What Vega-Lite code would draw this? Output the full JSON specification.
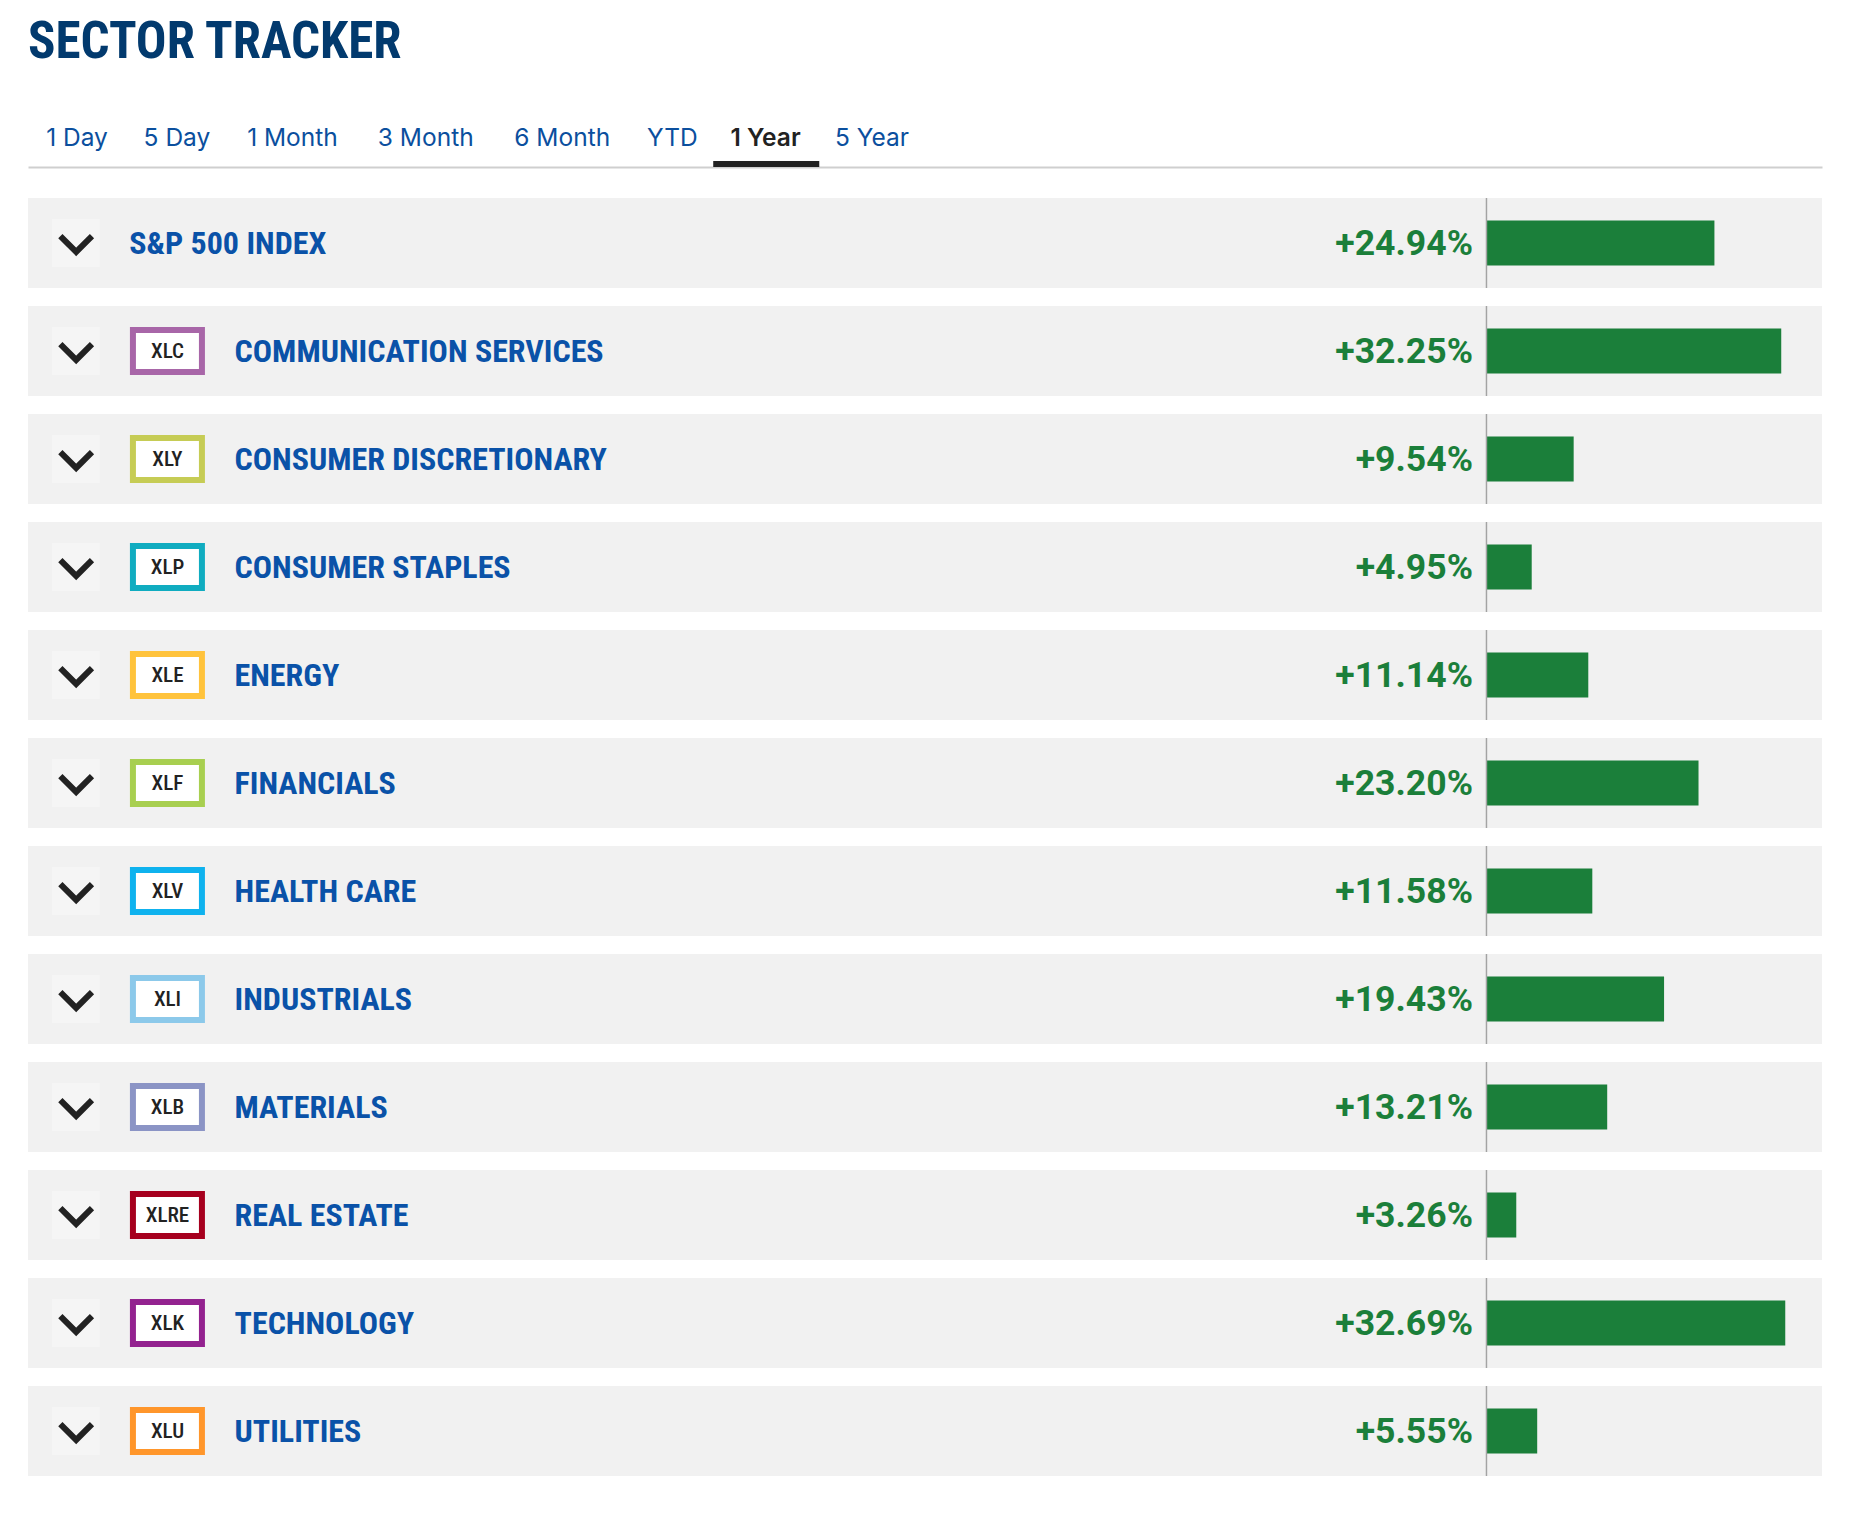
{
  "$schema": "https://vega.github.io/schema/vega-lite/v6.json",
  "background": "white",
  "width": 1794,
  "height": 1278,
  "autosize": {"type": "none"},
  "padding": {"left": 28, "top": 198, "right": 54, "bottom": 50},
  "title": {
    "text": "SECTOR TRACKER",
    "anchor": "start",
    "font": "Roboto Condensed",
    "fontSize": 51,
    "fontWeight": "bold",
    "color": "#023A6E",
    "offset": 56
  },
  "data": {
    "values": [
      {"sector": "S&P 500 INDEX", "ticker": "", "change": 24.94, "label": "+24.94%"},
      {"sector": "COMMUNICATION SERVICES", "ticker": "XLC", "change": 32.25, "label": "+32.25%"},
      {"sector": "CONSUMER DISCRETIONARY", "ticker": "XLY", "change": 9.54, "label": "+9.54%"},
      {"sector": "CONSUMER STAPLES", "ticker": "XLP", "change": 4.95, "label": "+4.95%"},
      {"sector": "ENERGY", "ticker": "XLE", "change": 11.14, "label": "+11.14%"},
      {"sector": "FINANCIALS", "ticker": "XLF", "change": 23.20, "label": "+23.20%"},
      {"sector": "HEALTH CARE", "ticker": "XLV", "change": 11.58, "label": "+11.58%"},
      {"sector": "INDUSTRIALS", "ticker": "XLI", "change": 19.43, "label": "+19.43%"},
      {"sector": "MATERIALS", "ticker": "XLB", "change": 13.21, "label": "+13.21%"},
      {"sector": "REAL ESTATE", "ticker": "XLRE", "change": 3.26, "label": "+3.26%"},
      {"sector": "TECHNOLOGY", "ticker": "XLK", "change": 32.69, "label": "+32.69%"},
      {"sector": "UTILITIES", "ticker": "XLU", "change": 5.55, "label": "+5.55%"}
    ]
  },
  "encoding": {
    "y": {
      "field": "sector",
      "type": "nominal",
      "axis": null,
      "scale": {
        "domain": ["S&P 500 INDEX", "COMMUNICATION SERVICES", "CONSUMER DISCRETIONARY", "CONSUMER STAPLES", "ENERGY", "FINANCIALS", "HEALTH CARE", "INDUSTRIALS", "MATERIALS", "REAL ESTATE", "TECHNOLOGY", "UTILITIES"],
        "range": [0, 1278],
        "paddingInner": 0.16667,
        "paddingOuter": 0
      }
    }
  },
  "layer": [
    {
      "mark": {"type": "bar", "color": "#F1F1F1"},
      "encoding": {
        "x": {"datum": -159.57, "type": "quantitative", "axis": null},
        "x2": {"datum": 36.71}
      }
    },
    {
      "transform": [{"filter": "datum.ticker == ''"}],
      "mark": {"type": "bar", "color": "#222222", "height": 6, "yOffset": -79},
      "encoding": {
        "x": {"datum": -84.6, "type": "quantitative", "axis": null},
        "x2": {"datum": -73.0}
      }
    },
    {
      "mark": {"type": "bar", "color": "#F5F5F5", "height": 48},
      "encoding": {
        "x": {"datum": -156.95, "type": "quantitative", "axis": null},
        "x2": {"datum": -151.7}
      }
    },
    {
      "mark": {"type": "point", "shape": "M-1,-0.5L0,0.5L1,-0.5", "filled": false, "stroke": "#222222", "strokeWidth": 6, "size": 1000, "opacity": 1, "yOffset": 1},
      "encoding": {
        "x": {"datum": -154.3, "type": "quantitative", "axis": null}
      }
    },
    {
      "transform": [{"filter": "datum.ticker != ''"}],
      "mark": {"type": "bar", "fill": "white", "strokeWidth": 6, "height": 42},
      "encoding": {
        "x": {"datum": -148.09, "type": "quantitative", "axis": null},
        "x2": {"datum": -140.54},
        "stroke": {
          "field": "ticker",
          "type": "nominal",
          "legend": null,
          "scale": {
            "domain": ["XLC", "XLY", "XLP", "XLE", "XLF", "XLV", "XLI", "XLB", "XLRE", "XLK", "XLU"],
            "range": ["#A866A8", "#C6CC55", "#10ACC0", "#FFC33C", "#A8CF50", "#0FB2EE", "#8CC9EA", "#8B94C5", "#A6001E", "#93228F", "#FF962B"]
          }
        }
      }
    },
    {
      "transform": [{"filter": "datum.ticker != ''"}],
      "mark": {"type": "text", "font": "Roboto Condensed", "fontSize": 21, "fontWeight": 500, "color": "#222222", "align": "center", "baseline": "middle", "dy": 1},
      "encoding": {
        "x": {"datum": -144.31, "type": "quantitative", "axis": null},
        "text": {"field": "ticker", "type": "nominal"}
      }
    },
    {
      "transform": [{"filter": "datum.ticker == ''"}],
      "mark": {"type": "text", "font": "Roboto Condensed", "fontWeight": "bold", "fontSize": 32, "color": "#0A52A8", "align": "left", "baseline": "middle", "dy": 1},
      "encoding": {
        "x": {"datum": -148.5, "type": "quantitative", "axis": null},
        "text": {"field": "sector", "type": "nominal"}
      }
    },
    {
      "transform": [{"filter": "datum.ticker != ''"}],
      "mark": {"type": "text", "font": "Roboto Condensed", "fontWeight": "bold", "fontSize": 32, "color": "#0A52A8", "align": "left", "baseline": "middle", "dy": 1},
      "encoding": {
        "x": {"datum": -136.97, "type": "quantitative", "axis": null},
        "text": {"field": "sector", "type": "nominal"}
      }
    },
    {
      "mark": {"type": "text", "font": "Roboto", "fontWeight": "bold", "fontSize": 35.6, "color": "#1B7F3A", "align": "right", "baseline": "middle", "dy": 1},
      "encoding": {
        "x": {"datum": -1.48, "type": "quantitative", "axis": null},
        "text": {"field": "label", "type": "nominal"}
      }
    },
    {
      "mark": {"type": "bar", "color": "#1B7F3A", "height": 45},
      "encoding": {
        "x": {
          "field": "change",
          "type": "quantitative",
          "title": null,
          "scale": {"domain": [-159.57, 36.71], "nice": false},
          "axis": {
            "orient": "top",
            "offset": 31,
            "grid": false,
            "ticks": false,
            "domainColor": "#CFCFCF",
            "domainWidth": 2,
            "labelPadding": 17,
            "labelFont": "Inter",
            "labelFontSize": 24.5,
            "labelOverlap": false,
            "labelBound": false,
            "labelFlush": false,
            "labelAngle": 0,
            "values": [-154.26, -143.33, -130.69, -116.11, -101.18, -89.13, -78.93, -67.28],
            "labelExpr": "{'-154.26': '1 Day', '-143.33': '5 Day', '-130.69': '1 Month', '-116.11': '3 Month', '-101.18': '6 Month', '-89.13': 'YTD', '-78.93': '1 Year', '-67.28': '5 Year'}[datum.value]",
            "labelColor": {"condition": {"test": "datum.value == -78.93", "value": "#222222"}, "value": "#0B4F9E"},
            "labelFontWeight": {"condition": {"test": "datum.value == -78.93", "value": 600}, "value": 400}
          }
        }
      }
    },
    {
      "mark": {"type": "bar", "color": "#A3A3A3"},
      "encoding": {
        "x": {"datum": -0.08, "type": "quantitative", "axis": null},
        "x2": {"datum": 0.08}
      }
    }
  ],
  "resolve": {"axis": {"x": "independent"}},
  "config": {"view": {"stroke": null}}
}
